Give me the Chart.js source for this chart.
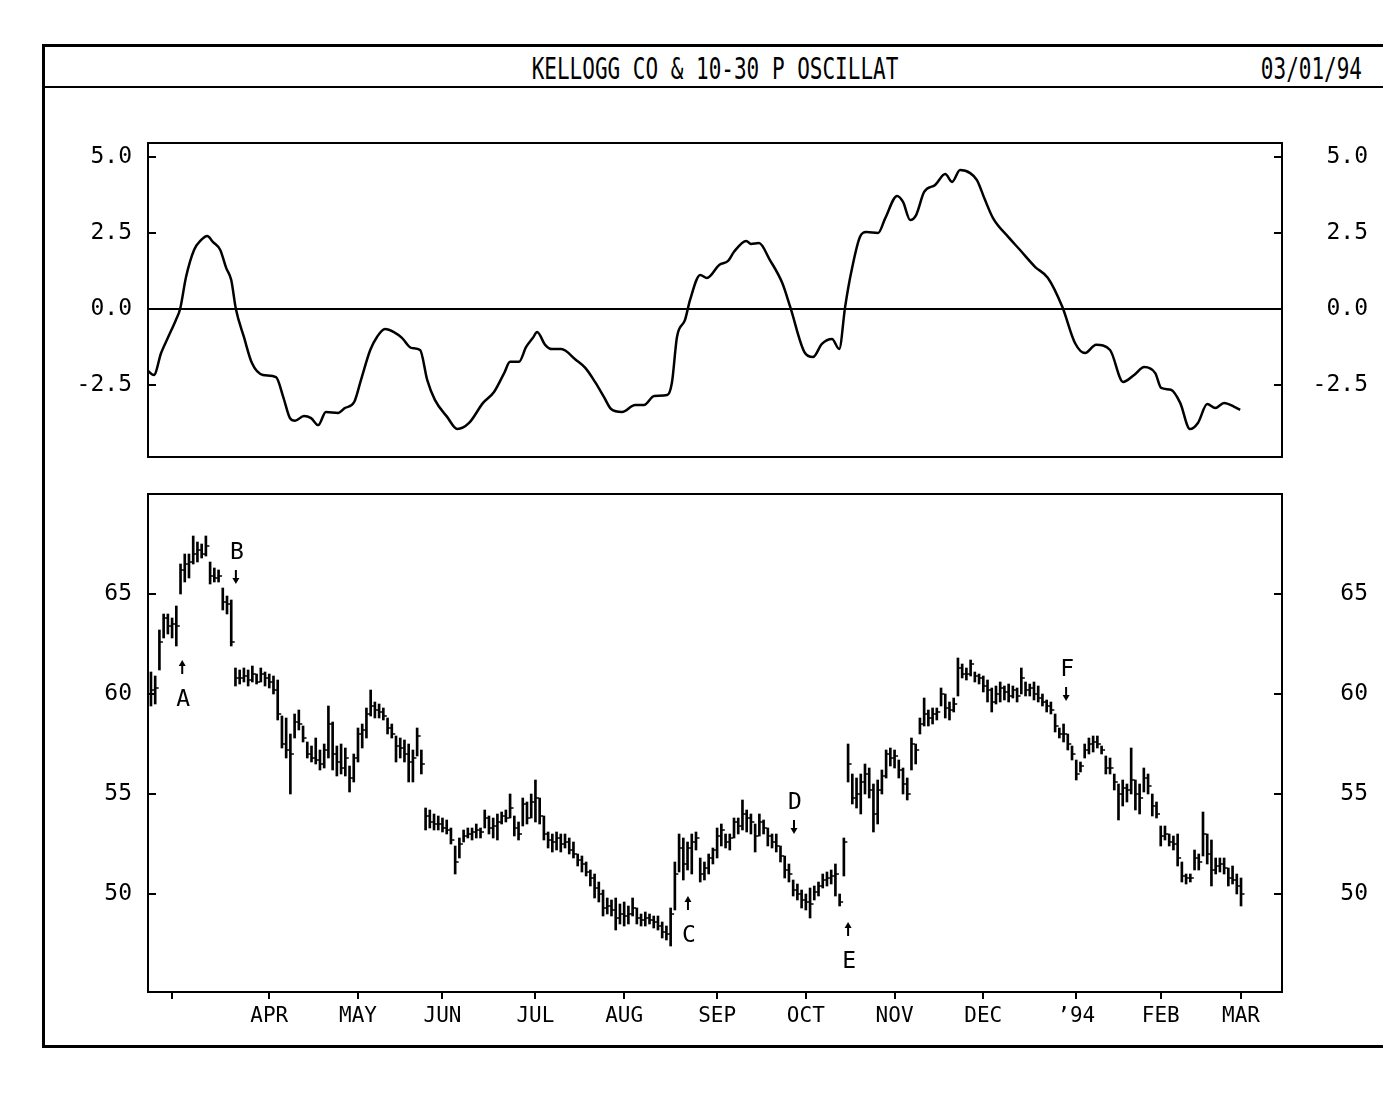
<!DOCTYPE html>
<html>
<head>
<meta charset="utf-8">
<script src="https://cdn.jsdelivr.net/npm/chart.js@4.4.1/dist/chart.umd.min.js"></script>
<style>
  body { margin: 0; background: #fff; width: 1383px; height: 1097px; position: relative; overflow: hidden; }
  .rule { position: absolute; background: #000; }
  .hdr { position: absolute; font-family: "DejaVu Sans Mono", monospace; font-size: 21px; line-height: 24px;
         color: #000; white-space: pre; transform: scaleY(1.4); transform-origin: 50% 0; }
  canvas { position: absolute; left: 0; }
  #osc { top: 120px; }
  #price { top: 470px; }
</style>
</head>
<body>
<div class="rule" style="left:42px;top:44px;width:3px;height:1004px"></div>
<div class="rule" style="left:42px;top:44px;width:1341px;height:3px"></div>
<div class="rule" style="left:42px;top:86px;width:1341px;height:2px"></div>
<div class="rule" style="left:42px;top:1045px;width:1341px;height:3px"></div>
<div class="hdr" style="left:415px;width:600px;top:52px;text-align:center">KELLOGG CO &amp; 10-30 P OSCILLAT</div>
<div class="hdr" style="left:1162px;width:200px;top:52px;text-align:right">03/01/94</div>
<canvas id="osc" width="1383" height="360"></canvas>
<canvas id="price" width="1383" height="590"></canvas>
<script>
// trading day index, 0 = first trading day of March 1993
const xMin = -5.7
const xMax = 262.7
const monthDays = [0, 23, 44, 64, 86, 107, 129, 150, 171, 192, 214, 234, 253]
const monthLabels = ["", "APR", "MAY", "JUN", "JUL", "AUG", "SEP", "OCT", "NOV", "DEC", "\u201994", "FEB", "MAR"]

const oscTicks = [-2.5, 0, 2.5, 5]
const priceTicks = [50, 55, 60, 65]

// 10-30 price oscillator
const oscDays = [-5.9,-4.3,-2.6,-0.7,0.9,1.9,3.3,5.2,6.9,8.3,
  9.7,11.4,12.8,14.0,15.1,17.0,18.9,21.5,24.6,26.3,
  27.9,29.1,31.2,32.9,34.6,36.4,39.3,40.9,43.1,44.7,
  46.9,48.5,50.4,52.5,54.4,56.6,58.7,60.4,62.2,65.1,
  67.5,70.3,73.6,76.2,78.6,80.0,82.1,83.8,85.4,86.4,
  88.3,89.9,92.1,95.6,97.8,100.1,102.2,103.9,106.5,109.6,
  111.7,114.1,117.2,118.3,119.5,121.4,122.6,125.0,126.6,129.5,
  131.6,133.0,135.9,137.0,138.9,141.5,144.4,146.3,149.8,151.7,
  153.8,156.2,157.9,159.3,160.7,162.8,164.3,167.1,168.8,171.6,
  173.0,174.7,176.1,178.0,180.6,183.0,184.6,186.5,188.9,190.5,
  192.4,194.3,197.9,200.7,204.3,207.3,210.7,213.7,216.1,218.7,
  222.0,225.1,227.7,230.1,232.7,234.1,236.4,238.6,240.9,242.8,
  245.0,246.9,249.0,251.4,252.8]
const oscValues = [-2.01,-2.17,-1.45,-0.86,-0.36,0,1.05,1.94,2.27,2.40,
  2.20,1.94,1.35,0.95,0,-0.92,-1.78,-2.17,-2.24,-2.89,
  -3.59,-3.68,-3.52,-3.59,-3.82,-3.39,-3.42,-3.26,-3.06,-2.34,
  -1.35,-0.92,-0.66,-0.76,-0.95,-1.28,-1.35,-2.34,-2.99,-3.55,
  -3.95,-3.75,-3.09,-2.73,-2.11,-1.74,-1.74,-1.25,-0.95,-0.76,
  -1.18,-1.32,-1.32,-1.68,-1.94,-2.40,-2.89,-3.29,-3.39,-3.16,
  -3.16,-2.86,-2.83,-2.43,-0.92,-0.36,0.30,1.12,1.02,1.45,
  1.58,1.88,2.24,2.14,2.17,1.61,0.86,0.07,-1.45,-1.58,
  -1.15,-0.99,-1.32,0.07,1.18,2.37,2.53,2.50,2.99,3.72,
  3.52,2.93,3.09,3.85,4.08,4.44,4.18,4.57,4.47,4.24,
  3.59,2.99,2.37,1.94,1.38,1.02,0.07,-1.12,-1.45,-1.18,
  -1.35,-2.40,-2.17,-1.91,-2.11,-2.60,-2.66,-3.09,-3.95,-3.75,
  -3.13,-3.26,-3.09,-3.22,-3.32]

// daily bars, first one is day -5 (late Feb 1993)
const firstDay = -5
const highs = [61.1,60.9,63.2,64.0,64.0,63.8,64.4,66.5,67.0,67.0,
  67.9,67.6,67.5,67.9,66.6,66.3,66.2,65.3,64.9,64.7,
  61.3,61.2,61.3,61.2,61.4,61.0,61.3,61.1,61.0,60.9,
  60.7,58.9,58.8,58.0,59.0,59.2,58.4,57.6,57.4,57.8,
  57.2,57.5,59.4,58.6,57.4,57.5,57.3,56.4,57.0,58.3,
  58.5,59.3,60.2,59.6,59.5,59.3,58.8,58.5,57.9,57.8,
  57.7,57.5,57.2,58.3,57.2,54.3,54.2,54.0,53.9,53.8,
  53.7,53.3,52.4,52.8,53.2,53.3,53.3,53.5,53.3,54.2,
  53.9,53.8,54.0,54.1,54.2,55.0,53.9,53.6,54.8,54.6,
  55.0,55.7,54.8,53.9,53.1,53.0,53.1,53.0,53.0,52.8,
  52.6,52.0,51.9,51.6,51.2,51.0,50.6,50.2,49.8,49.7,
  49.8,49.5,49.6,49.4,49.8,49.3,49.0,49.1,49.0,48.9,
  48.9,48.6,48.4,49.3,51.6,53.0,52.8,52.6,53.0,53.1,
  51.8,51.6,52.0,52.3,53.3,53.5,53.0,53.0,53.8,53.8,
  54.7,54.2,54.0,53.5,54.0,53.7,53.3,53.0,53.0,52.4,
  51.9,51.5,50.7,50.5,50.2,50.0,50.3,50.4,50.6,51.0,
  51.1,51.2,51.5,50.0,52.8,57.5,56.0,55.8,56.0,56.5,
  56.3,55.5,55.7,56.2,57.2,57.3,57.2,56.7,56.3,55.8,
  57.8,57.5,58.8,59.8,59.2,59.3,59.3,60.3,60.0,59.6,
  59.8,61.8,61.5,61.3,61.7,61.1,61.0,60.9,60.7,60.3,
  60.4,60.6,60.4,60.5,60.4,60.3,61.3,60.6,60.5,60.6,
  60.4,60.0,59.7,59.6,59.0,58.3,58.5,58.0,57.4,56.7,
  56.6,57.5,57.8,57.9,57.9,57.4,56.9,56.8,56.0,55.5,
  55.7,55.5,57.3,55.7,55.5,56.3,56.0,55.0,54.6,53.4,
  53.4,53.0,52.9,53.0,51.6,51.0,51.0,52.2,52.0,54.1,
  53.0,52.7,51.8,51.8,51.8,51.3,51.4,51.0,50.8]
const lows = [59.4,59.5,61.2,62.8,63.0,62.8,62.4,65.0,65.6,65.8,
  66.5,66.6,66.8,66.9,65.5,65.6,65.6,64.2,64.0,62.4,
  60.4,60.5,60.6,60.4,60.6,60.5,60.6,60.4,60.3,60.0,
  58.7,57.3,56.8,55.0,57.8,58.2,57.6,56.8,56.6,56.5,
  56.2,56.3,56.8,56.2,55.9,56.0,55.9,55.1,55.6,56.6,
  57.3,57.8,58.9,58.8,58.8,58.7,58.0,57.8,56.6,56.8,
  56.6,55.6,55.6,56.9,56.0,53.2,53.3,53.2,53.2,53.1,
  53.0,52.5,51.0,51.8,52.6,52.8,52.7,52.8,52.8,53.3,
  53.0,52.8,52.7,53.5,53.6,53.8,52.9,52.7,53.4,53.5,
  53.8,53.6,53.5,52.7,52.3,52.1,52.2,52.1,52.3,52.0,
  51.8,51.4,51.1,50.9,50.4,49.8,49.6,48.9,49.0,48.9,
  48.2,48.5,48.4,48.5,48.9,48.5,48.4,48.4,48.5,48.3,
  48.2,47.8,47.7,47.4,49.2,51.1,50.7,51.2,51.0,52.2,
  50.6,50.7,51.0,51.5,51.8,52.4,52.3,52.2,52.8,53.0,
  53.2,53.1,53.0,52.1,52.9,53.0,52.4,52.3,52.1,51.6,
  50.8,50.6,49.9,49.7,49.3,49.2,48.8,49.7,49.9,50.3,
  50.4,50.5,49.9,49.4,50.9,55.6,54.5,54.3,54.0,55.0,
  54.8,53.1,53.5,55.0,55.8,56.4,56.3,55.8,55.0,54.7,
  56.2,56.5,58.0,58.4,58.4,58.5,58.7,59.4,58.8,58.7,
  59.1,59.9,60.8,60.7,60.9,60.6,60.5,60.1,59.6,59.1,
  59.5,59.6,59.7,59.6,59.8,59.6,60.0,59.9,59.9,59.7,
  59.6,59.4,59.1,59.0,58.1,57.8,57.6,57.2,56.7,55.7,
  56.1,56.8,57.0,57.1,57.3,57.0,56.0,56.0,55.2,53.7,
  54.4,54.6,55.0,54.2,54.0,55.1,55.0,53.9,53.8,52.4,
  52.7,52.4,52.2,51.4,50.6,50.5,50.6,51.2,51.2,51.9,
  51.5,50.4,51.0,51.1,51.0,50.4,50.5,50.0,49.4]
const closes = [60.2,60.3,62.6,63.8,63.4,63.5,63.4,66.2,66.5,66.6,
  67.0,67.2,67.0,67.4,65.9,65.8,65.9,64.6,64.5,62.6,
  60.8,60.8,60.9,60.7,61.0,60.6,61.0,60.8,60.6,60.2,
  59.0,57.5,57.2,57.0,58.6,58.5,57.8,57.0,56.8,56.7,
  56.5,57.2,58.5,57.0,56.6,56.3,56.8,55.8,56.8,58.0,
  58.2,59.0,59.4,59.2,59.1,58.9,58.3,58.0,57.4,57.3,
  57.0,56.6,56.8,57.9,56.5,53.9,53.6,53.5,53.5,53.3,
  53.2,52.7,51.6,52.5,52.9,53.0,53.1,53.2,53.1,53.8,
  53.3,53.4,53.6,53.9,53.8,54.3,53.3,53.0,54.5,53.8,
  54.6,54.8,53.9,53.0,52.7,52.6,52.8,52.5,52.6,52.2,
  52.0,51.7,51.5,51.1,50.8,50.3,50.0,49.3,49.4,49.2,
  48.8,49.0,48.9,49.0,49.3,48.8,48.7,48.8,48.7,48.6,
  48.4,48.1,48.0,49.0,51.0,52.3,51.5,52.3,52.6,52.8,
  51.0,51.3,51.8,52.2,52.9,53.2,52.6,52.8,53.6,53.4,
  54.0,53.8,53.6,52.9,53.6,53.3,52.9,52.6,52.4,51.9,
  51.2,51.0,50.2,50.0,49.7,49.6,49.5,50.1,50.4,50.7,
  50.8,50.9,51.0,49.6,52.6,56.5,54.8,55.0,55.6,56.0,
  55.2,54.0,55.2,55.9,57.0,56.8,56.9,56.2,55.5,55.0,
  57.5,57.2,58.5,59.0,58.8,59.0,59.1,60.0,59.3,59.2,
  59.5,61.3,61.0,61.0,61.5,60.9,60.8,60.4,60.2,59.6,
  60.0,60.3,60.1,59.9,60.2,59.9,60.8,60.2,60.3,60.0,
  59.8,59.6,59.4,59.2,58.4,58.0,58.0,57.5,57.0,56.0,
  56.4,57.2,57.5,57.6,57.5,57.2,56.3,56.3,55.6,55.0,
  55.3,55.2,55.7,55.0,54.8,55.8,55.4,54.4,54.0,52.9,
  53.0,52.6,52.5,51.8,50.9,50.8,50.8,51.8,51.6,53.0,
  52.0,51.2,51.4,51.5,51.3,50.8,50.7,50.4,50.0]
const days = highs.map((h, i) => firstDay + i)

// signal marks A-F: arrow tip day / price
const noteLabels = ["A", "B", "C", "D", "E", "F"]
const noteDays = [2.4, 15.1, 122.1, 147.2, 160.0, 211.6]
const notePrices = [61.7, 65.5, 49.9, 53.0, 48.6, 59.65]
const noteUp = [true, false, true, false, true, false]

const tickFont = { family: "'DejaVu Sans Mono', monospace", size: 23 }
const monthFont = { family: "'DejaVu Sans Mono', monospace", size: 21 }

function noPad(s) {
    s.paddingTop = 0; s.paddingBottom = 0; s.paddingLeft = 0; s.paddingRight = 0
}

const framePlugin = {
    id: "frame",
    beforeDatasetsDraw(chart, args, opts) {
        if (!opts.zero) return
        const {ctx, chartArea: a} = chart
        const y = chart.scales.y.getPixelForValue(0)
        ctx.save()
        ctx.strokeStyle = "#000"
        ctx.lineWidth = 2
        ctx.beginPath()
        ctx.moveTo(a.left, y)
        ctx.lineTo(a.right, y)
        ctx.stroke()
        ctx.restore()
    },
    afterDraw(chart) {
        const {ctx, chartArea: a} = chart
        const ys = chart.scales.y
        ctx.save()
        ctx.strokeStyle = "#000"
        ctx.lineWidth = 2
        ctx.strokeRect(a.left, a.top, a.right - a.left, a.bottom - a.top)
        ctx.beginPath()
        ys.ticks.forEach(t => {
            const y = Math.round(ys.getPixelForValue(t.value))
            ctx.moveTo(a.left, y); ctx.lineTo(a.left + 8, y)
            ctx.moveTo(a.right - 8, y); ctx.lineTo(a.right, y)
        })
        ctx.stroke()
        ctx.restore()
    }
}

const closePlugin = {
    id: "closeTicks",
    afterDatasetsDraw(chart) {
        const {ctx} = chart
        const xs = chart.scales.x, ys = chart.scales.y
        ctx.save()
        ctx.strokeStyle = "#000"
        ctx.lineWidth = 1.5
        ctx.beginPath()
        closes.forEach((c, i) => {
            const x = xs.getPixelForValue(days[i])
            const y = ys.getPixelForValue(c)
            ctx.moveTo(x, y); ctx.lineTo(x + 3.5, y)
        })
        ctx.stroke()
        ctx.restore()
    }
}

const notesPlugin = {
    id: "notes",
    afterDatasetsDraw(chart) {
        const {ctx} = chart
        const xs = chart.scales.x, ys = chart.scales.y
        ctx.save()
        ctx.fillStyle = "#000"
        ctx.strokeStyle = "#000"
        ctx.lineWidth = 2
        ctx.font = "23px 'DejaVu Sans Mono', monospace"
        ctx.textAlign = "center"
        noteLabels.forEach((lab, i) => {
            const x = xs.getPixelForValue(noteDays[i])
            const y = ys.getPixelForValue(notePrices[i])
            const dir = noteUp[i] ? 1 : -1
            ctx.beginPath()
            ctx.moveTo(x, y + dir * 3); ctx.lineTo(x, y + dir * 14)
            ctx.stroke()
            ctx.beginPath()
            ctx.moveTo(x, y); ctx.lineTo(x - 3.5, y + dir * 6); ctx.lineTo(x + 3.5, y + dir * 6)
            ctx.closePath()
            ctx.fill()
            if (noteUp[i]) {
                ctx.textBaseline = "alphabetic"
                ctx.fillText(lab, x + 1, y + 46)
            } else {
                ctx.fillText(lab, x + 1, y - 25)
            }
        })
        ctx.restore()
    }
}

function yAxis(pos, ticks, min, max, fmt) {
    return {
        position: pos,
        min: min,
        max: max,
        afterBuildTicks: s => { s.ticks = ticks.map(v => ({value: v})) },
        afterFit: s => { s.width = pos === "left" ? 148 : 86; noPad(s) },
        grid: {display: false, drawTicks: false},
        border: {display: false},
        ticks: {
            padding: 16,
            crossAlign: pos === "left" ? "near" : "far",
            color: "#000",
            font: tickFont,
            callback: v => fmt(v)
        }
    }
}

new Chart(document.getElementById("osc"), {
    type: "line",
    data: {
        datasets: [{
            data: oscDays.map((d, i) => ({x: d, y: oscValues[i]})),
            borderColor: "#000",
            borderWidth: 2.5,
            pointRadius: 0,
            cubicInterpolationMode: "monotone",
            fill: false
        }]
    },
    options: {
        responsive: false,
        animation: false,
        layout: {padding: {top: 23, bottom: 23, left: 0, right: 15}},
        plugins: {legend: {display: false}, tooltip: {enabled: false}, frame: {zero: true}},
        scales: {
            x: {type: "linear", min: xMin, max: xMax, display: false},
            y: yAxis("left", oscTicks, -4.87, 5.46, v => v.toFixed(1)),
            y2: yAxis("right", oscTicks, -4.87, 5.46, v => v.toFixed(1))
        }
    },
    plugins: [framePlugin]
})

new Chart(document.getElementById("price"), {
    type: "bar",
    data: {
        datasets: [{
            data: days.map((d, i) => ({x: d, y: [lows[i], highs[i]]})),
            backgroundColor: "#000",
            borderWidth: 0,
            borderSkipped: false,
            barThickness: 2,
            grouped: false
        }]
    },
    options: {
        responsive: false,
        animation: false,
        layout: {padding: {top: 24, bottom: 0, left: 0, right: 15}},
        plugins: {legend: {display: false}, tooltip: {enabled: false}},
        scales: {
            x: {
                type: "linear",
                min: xMin,
                max: xMax,
                offset: false,
                afterBuildTicks: s => { s.ticks = monthDays.map(v => ({value: v})) },
                afterFit: s => { s.height = 68; noPad(s) },
                grid: {offset: false, drawOnChartArea: false, drawTicks: true, tickLength: 7, color: "#000", lineWidth: 2},
                border: {display: false},
                ticks: {
                    autoSkip: false,
                    maxRotation: 0,
                    padding: 5,
                    color: "#000",
                    font: monthFont,
                    callback: (v, i) => monthLabels[i]
                }
            },
            y: yAxis("left", priceTicks, 45.1, 70, v => String(v)),
            y2: yAxis("right", priceTicks, 45.1, 70, v => String(v))
        }
    },
    plugins: [framePlugin, closePlugin, notesPlugin]
})
</script>
</body>
</html>
